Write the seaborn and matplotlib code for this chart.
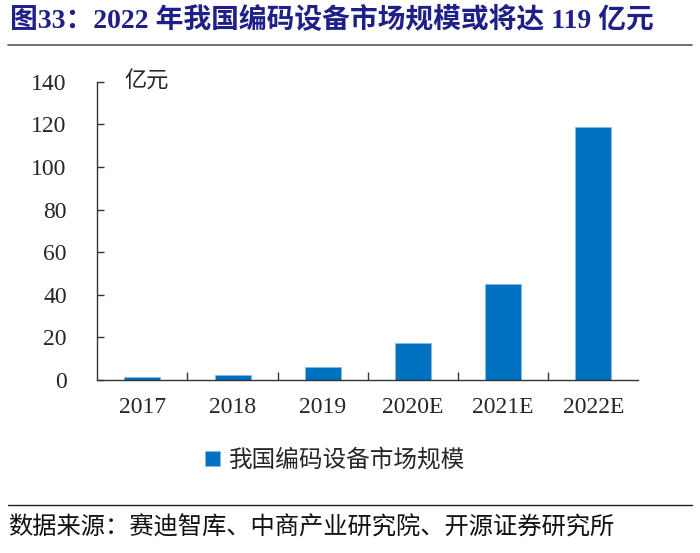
import pandas as pd
import matplotlib.pyplot as plt
import seaborn as sns
from matplotlib.ticker import FixedLocator

# Data
years = ['2017', '2018', '2019', '2020E', '2021E', '2022E']
market_size = [1.3, 2.2, 6.2, 17.4, 45.2, 119.0]
series_name = '我国编码设备市场规模'

df = pd.DataFrame({'year': years, 'size': market_size})

sns.set_style('white')
plt.rcParams['font.family'] = ['Liberation Serif', 'Noto Sans CJK SC']

fig = plt.figure(figsize=(7, 5.53), dpi=100)
ax = fig.add_axes([0.139, 0.313, 0.773, 0.539])

sns.barplot(data=df, x='year', y='size', color='#0070C0', width=0.4,
            label=series_name, ax=ax, saturation=1,
            edgecolor='#8FB8E0', linewidth=0.6)

ax.set_ylim(0, 140)
ax.set_xlim(-0.5, len(years) - 0.5)
ax.set_yticks(range(0, 141, 20))
ax.set_xlabel('')
ax.set_ylabel('')
ax.tick_params(axis='y', left=True, direction='in', length=5, width=1,
               labelsize=17, pad=22, color='#333333')
ax.tick_params(axis='x', which='major', length=0, labelsize=17, pad=12)
ax.xaxis.set_minor_locator(FixedLocator([i + 0.5 for i in range(len(years) - 1)]))
ax.tick_params(axis='x', which='minor', bottom=True, direction='in', length=6,
               width=1, color='#333333')
for s in ['top', 'right']:
    ax.spines[s].set_visible(False)
for s in ['left', 'bottom']:
    ax.spines[s].set_color('#333333')
    ax.spines[s].set_linewidth(1)

ax.text(0.05, 140, '亿元', fontsize=16, va='center', ha='left',
        transform=ax.get_yaxis_transform())

ax.legend(loc='center', bbox_to_anchor=(0.44, -0.27), frameon=False,
          fontsize=17, handlelength=0.6, handleheight=0.6, handletextpad=0.4)

# Title and rules
fig.text(0.014, 0.963, '图33：2022 年我国编码设备市场规模或将达 119 亿元',
         fontsize=20, fontweight='bold', color='#1F1F8A', va='center', ha='left')
fig.add_artist(plt.Line2D([0.012, 0.988], [0.918, 0.918], color='#555555', lw=1.2))
fig.add_artist(plt.Line2D([0.012, 0.988], [0.087, 0.087], color='#222222', lw=1.0))
fig.text(0.012, 0.045, '数据来源：赛迪智库、中商产业研究院、开源证券研究所',
         fontsize=17.5, color='#111111', va='center', ha='left')

fig.savefig('out.png', dpi=100)
